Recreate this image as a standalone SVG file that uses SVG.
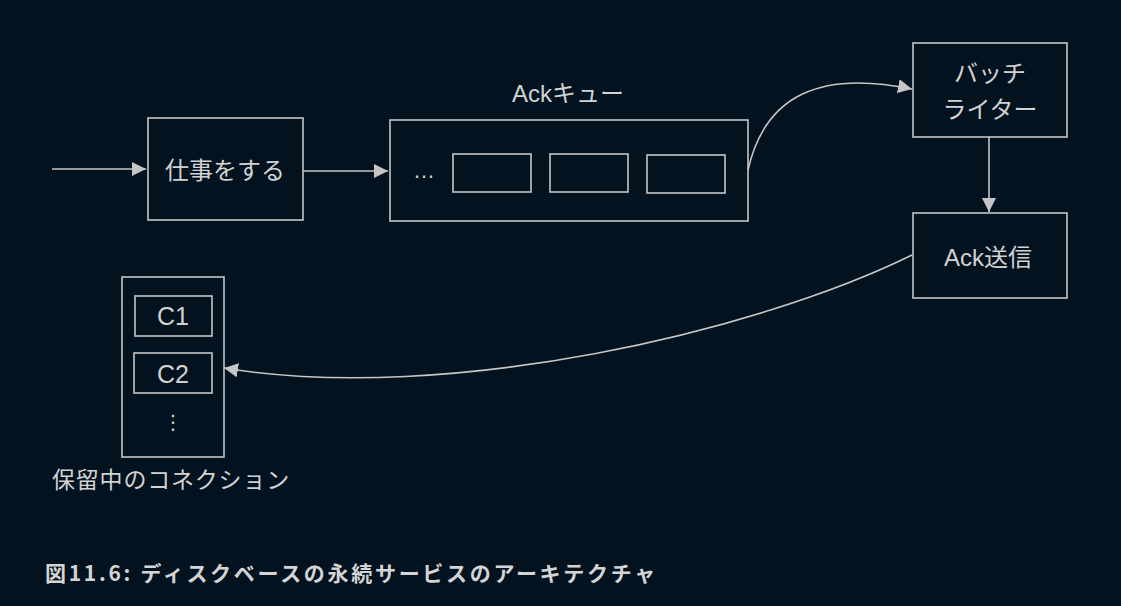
<svg xmlns="http://www.w3.org/2000/svg" width="1121" height="606" viewBox="0 0 1121 606">
  <style>
    .box { fill: none; stroke: #c6c6c6; stroke-width: 1.6; }
    .edge { fill: none; stroke: #c6c6c6; stroke-width: 1.6; }
    .lbl { fill: #d2d2d2; font-family: "Liberation Sans", "Noto Sans CJK JP", sans-serif; font-size: 24px; text-anchor: middle; }
    .jp { font-family: "Noto Sans CJK JP", "Liberation Sans", sans-serif; }
    .cap { fill: #d4d4d4; font-family: "Noto Sans CJK JP", "Liberation Sans", sans-serif; font-size: 21px; font-weight: bold; letter-spacing: 2.7px; }
  </style>
  <defs>
    <marker id="arrow" markerUnits="userSpaceOnUse" markerWidth="14" markerHeight="14" refX="14" refY="7" orient="auto">
      <path d="M0,0 L14,7 L0,14 z" fill="#c6c6c6"/>
    </marker>
  </defs>
  <rect width="1121" height="606" fill="#03121f"/>

  <g id="connectors">
    <line class="edge" x1="52" y1="169" x2="146" y2="169" marker-end="url(#arrow)"/>
    <line class="edge" x1="303" y1="171" x2="388" y2="171" marker-end="url(#arrow)"/>
    <path class="edge" d="M748,170 C765,95 820,70 912,89" marker-end="url(#arrow)"/>
    <line class="edge" x1="989" y1="137" x2="989" y2="212" marker-end="url(#arrow)"/>
    <path class="edge" d="M912,255 C760,330 450,405 224,368" marker-end="url(#arrow)"/>
  </g>

  <g id="node-work">
    <rect class="box" x="148" y="118" width="155" height="102"/>
    <text class="lbl jp" x="225" y="179">仕事をする</text>
  </g>

  <g id="node-ack-queue">
    <text class="lbl" x="568" y="102">Ackキュー</text>
    <rect class="box" x="390" y="120" width="358" height="101"/>
    <text class="lbl" x="424" y="178" style="font-size:22px">…</text>
    <rect class="box" x="453" y="154" width="78" height="38"/>
    <rect class="box" x="550" y="154" width="78" height="38"/>
    <rect class="box" x="647" y="155" width="78" height="38"/>
  </g>

  <g id="node-batch-writer">
    <rect class="box" x="913" y="43" width="154" height="94"/>
    <text class="lbl jp" x="990" y="82">バッチ</text>
    <text class="lbl jp" x="990" y="118">ライター</text>
  </g>

  <g id="node-ack-send">
    <rect class="box" x="913" y="213" width="154" height="85"/>
    <text class="lbl" x="988" y="266">Ack送信</text>
  </g>

  <g id="node-pending">
    <rect class="box" x="122" y="277" width="102" height="180"/>
    <rect class="box" x="135" y="296" width="77" height="40"/>
    <text class="lbl" x="173" y="325" style="font-size:25px">C1</text>
    <rect class="box" x="134" y="353" width="78" height="40"/>
    <text class="lbl" x="173" y="383" style="font-size:25px">C2</text>
    <text class="lbl" x="173" y="429" style="font-family:'DejaVu Sans', sans-serif; font-size:20px">⋮</text>
    <text class="lbl jp" x="52" y="488" style="text-anchor:start; font-size:23px; letter-spacing:0.8px">保留中のコネクション</text>
  </g>

  <text class="cap" x="45" y="581">図11.6: ディスクベースの永続サービスのアーキテクチャ</text>
</svg>
